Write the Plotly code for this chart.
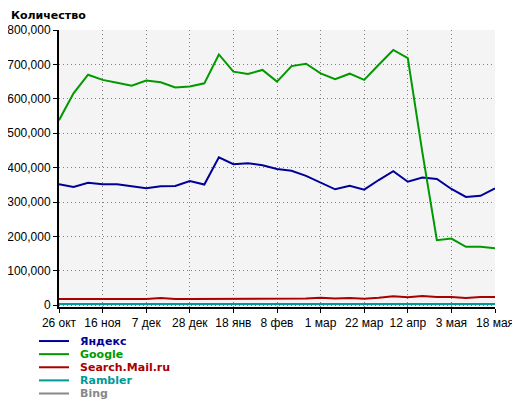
import plotly.graph_objects as go

weeks = ["26 окт", "2 ноя", "9 ноя", "16 ноя", "23 ноя", "30 ноя", "7 дек", "14 дек",
         "21 дек", "28 дек", "4 янв", "11 янв", "18 янв", "25 янв", "1 фев", "8 фев",
         "15 фев", "22 фев", "1 мар", "8 мар", "15 мар", "22 мар", "29 мар", "5 апр",
         "12 апр", "19 апр", "26 апр", "3 мая", "10 мая", "17 мая", "18 мая"]

tick_labels = ["26 окт", "16 ноя", "7 дек", "28 дек", "18 янв", "8 фев", "1 мар",
               "22 мар", "12 апр", "3 мая", "18 мая"]

yandex = [352000, 344000, 356000, 352000, 352000, 346000, 340000, 346000, 347000, 361000,
          351000, 430000, 410000, 413000, 407000, 396000, 391000, 376000, 357000, 337000,
          347000, 336000, 364000, 390000, 359000, 371000, 367000, 338000, 315000, 318000, 340000]

google = [538000, 616000, 670000, 655000, 647000, 638000, 653000, 648000, 633000, 636000,
          645000, 729000, 679000, 672000, 684000, 650000, 695000, 702000, 674000, 657000,
          673000, 655000, 699000, 742000, 718000, 445000, 189000, 194000, 170000, 170000, 166000]

mail = [18000, 18000, 18000, 18000, 18000, 18000, 18000, 21000, 18000, 18000,
        18000, 20000, 20000, 20000, 20000, 20000, 20000, 20000, 22000, 20000,
        21000, 19000, 22000, 26000, 23000, 27000, 24000, 24000, 21000, 24000, 24000]

rambler = [4000] * 31
bing = [3500] * 31

series = [
    ("Bing", bing, "#888888", 5),
    ("Rambler", rambler, "#009999", 4),
    ("Search.Mail.ru", mail, "#aa0000", 3),
    ("Яндекс", yandex, "#000099", 1),
    ("Google", google, "#009900", 2),
]

fig = go.Figure()
for name, vals, color, rank in series:
    fig.add_trace(go.Scatter(x=weeks, y=vals, mode="lines", name=name,
                             line=dict(color=color, width=2), legendrank=rank))

# page body has an 8px margin; lay out in screen pixels and shift
OFF = 8
W, H = 520 - OFF, 405 - OFF
left_s, right_s, top_s, bottom_s = 59, 495, 30, 306.7
L, R, T, B = left_s - OFF, W - (right_s - OFF), top_s - OFF, H - (bottom_s - OFF)
pw, ph = W - L - R, H - T - B


def px(x):
    return (x - OFF - L) / pw


def py(y):
    return (H - B - (y - OFF)) / ph


legend_order = ["Яндекс", "Google", "Search.Mail.ru", "Rambler", "Bing"]
colors = {n: c for n, _, c, _ in series}
shapes = []
annotations = []
for i, name in enumerate(legend_order):
    yy = 340.7 + i * 13.1
    shapes.append(dict(type="line", xref="paper", yref="paper",
                       x0=px(39), x1=px(69), y0=py(yy), y1=py(yy),
                       line=dict(color=colors[name], width=2)))
    annotations.append(dict(xref="paper", yref="paper", x=px(78), y=py(yy),
                            xanchor="left", yanchor="middle", showarrow=False,
                            text="<b>%s</b>" % name,
                            font=dict(family="DejaVu Sans", size=11, color=colors[name])))

annotations.append(dict(xref="paper", yref="paper", x=px(10), y=py(8.5),
                        xanchor="left", yanchor="top", showarrow=False, borderpad=0,
                        text="<b>Количество</b>",
                        font=dict(family="DejaVu Sans", size=11, color="#000000")))

fig.update_layout(
    width=W, height=H,
    margin=dict(l=L, r=R, t=T, b=B, pad=0, autoexpand=False),
    paper_bgcolor="#ffffff",
    plot_bgcolor="#f4f4f4",
    showlegend=False,
    shapes=shapes,
    annotations=annotations,
    font=dict(family="Liberation Sans, Arial", size=12, color="#000000"),
)

fig.update_xaxes(
    type="category",
    range=[0, len(weeks) - 1],
    tickmode="array",
    tickvals=tick_labels,
    ticktext=tick_labels,
    showline=True, linecolor="#000000", linewidth=2,
    ticks="outside", ticklen=4, tickcolor="#000000", tickwidth=1,
    showgrid=True, gridcolor="#808080", gridwidth=1, griddash="1px,3px",
    zeroline=False,
)

fig.update_yaxes(
    range=[-5000, 800000],
    tickvals=[0, 100000, 200000, 300000, 400000, 500000, 600000, 700000, 800000],
    tickformat=",d",
    showline=True, linecolor="#000000", linewidth=2,
    ticks="outside", ticklen=4, tickcolor="#000000", tickwidth=1,
    showgrid=True, gridcolor="#808080", gridwidth=1, griddash="1px,3px",
    zeroline=False,
)

fig.write_html("out.html")
